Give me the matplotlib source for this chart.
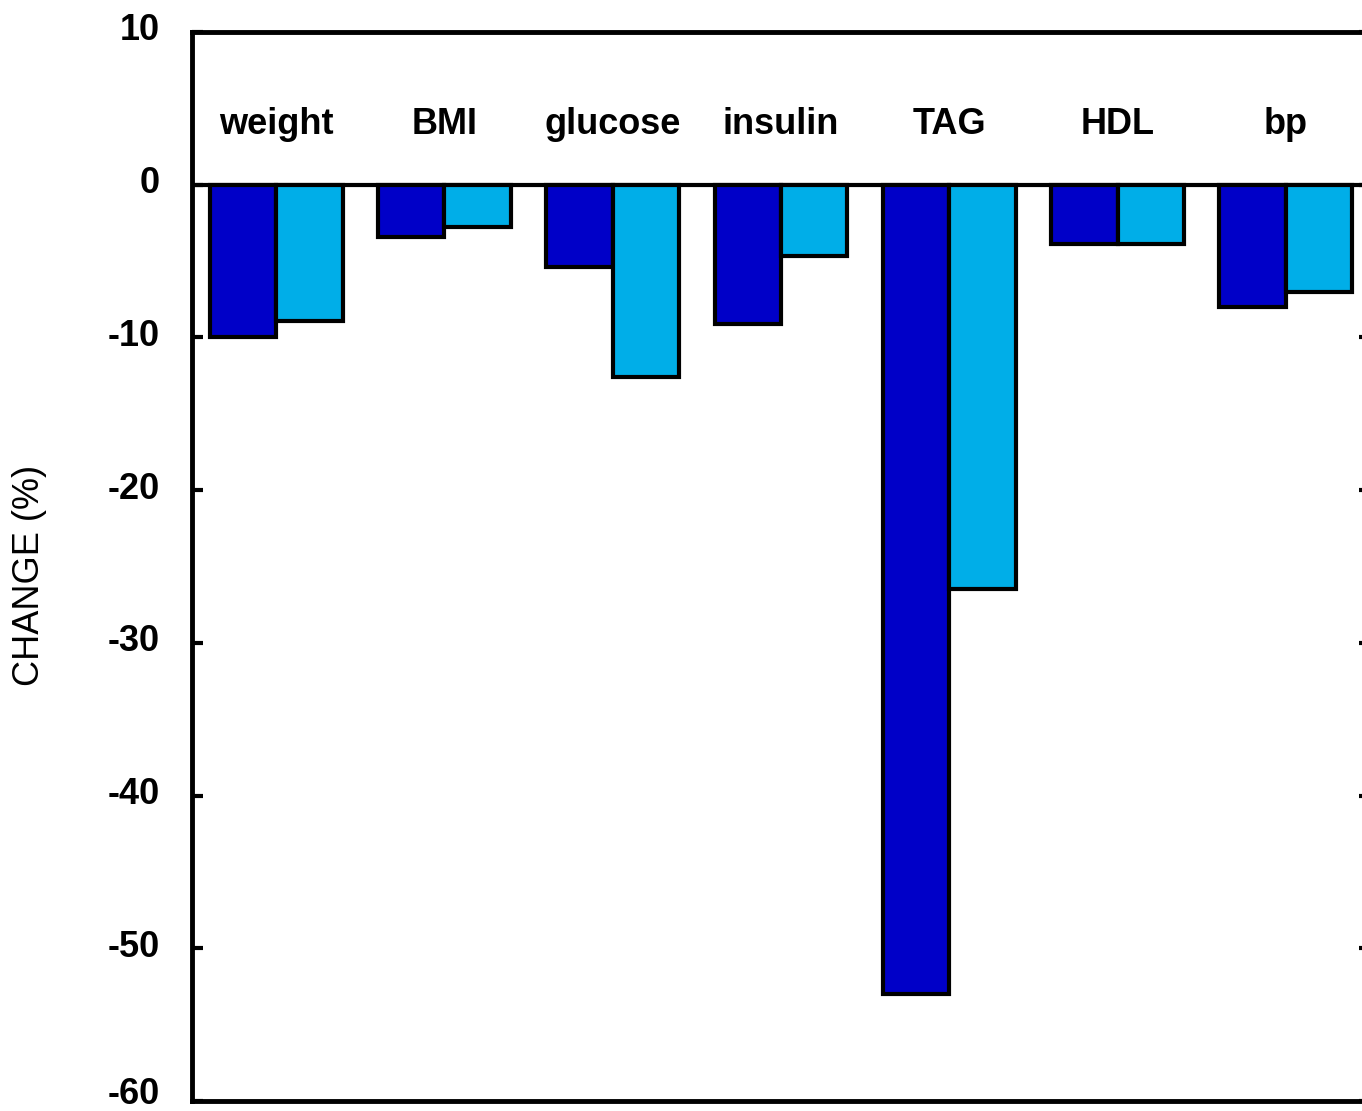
import matplotlib.pyplot as plt
import matplotlib.transforms as mtransforms
import numpy as np

categories = ['weight', 'BMI', 'glucose', 'insulin', 'TAG', 'HDL', 'bp']
dark_vals = [-10.0, -3.4, -5.4, -9.1, -53.0, -3.85, -8.0]
light_vals = [-8.9, -2.75, -12.6, -4.65, -26.5, -3.85, -7.0]
yticks = [10, 0, -10, -20, -30, -40, -50, -60]

plt.rcParams['font.family'] = ['Liberation Sans', 'DejaVu Sans']

fig = plt.figure(figsize=(13.62, 11.11), dpi=100)
ax = fig.add_axes([192/1362, 10/1111, 1178/1362, 1069/1111])

x = np.arange(len(categories))
w = 0.395
ax.bar(x - w/2, dark_vals, w, color='#0000C8', edgecolor='black', linewidth=3)
ax.bar(x + w/2, light_vals, w, color='#00AEE8', edgecolor='black', linewidth=3)
ax.axhline(0, color='black', linewidth=3, zorder=0.5)

for i, c in enumerate(categories):
    ax.text(i, 3.95, c, ha='center', va='center', fontsize=26, fontweight='bold')

ax.set_xlim(-0.5, 6.5)
ax.set_ylim(-60, 10)
ax.set_xticks([])
ax.set_yticks(yticks)
ax.set_yticklabels([str(t) for t in yticks], fontsize=26, fontweight='bold')
ax.tick_params(axis='y', direction='in', length=8, width=3, pad=23, right=True)
# labels sit a few pixels above their ticks in the original
labs = ax.get_yticklabels()
for lab in labs:
    lab.set_transform(lab.get_transform() + mtransforms.ScaledTranslation(0, 5/100, fig.dpi_scale_trans))
# bottom one a little more so it stays inside the canvas
labs[-1].set_transform(labs[-1].get_transform() + mtransforms.ScaledTranslation(0, 6/100, fig.dpi_scale_trans))
for s in ax.spines.values():
    s.set_linewidth(3.5)

fig.text(30/1362, 1 - 575/1111, 'CHANGE (%)', rotation=90, ha='center', va='center', fontsize=26)

fig.savefig('out.png', dpi=100)
